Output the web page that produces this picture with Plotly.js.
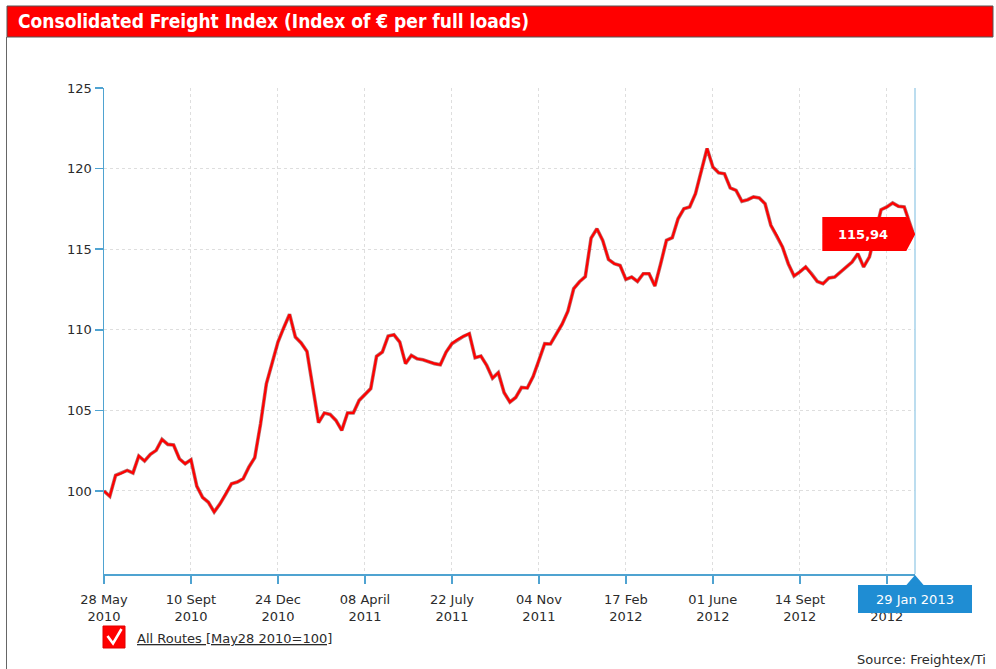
<!DOCTYPE html>
<html>
<head>
<meta charset="utf-8">
<script src="https://cdn.plot.ly/plotly-3.0.1.min.js"></script>
<style>
  html, body { margin: 0; padding: 0; background: #ffffff; }
  #chart { width: 996px; height: 669px; }
</style>
</head>
<body>
<div id="chart"></div>
<script>
// ---------- DATA ----------
const dates = [
'2010-05-28','2010-06-04','2010-06-11','2010-06-18','2010-06-25','2010-07-02','2010-07-09','2010-07-16','2010-07-23','2010-07-30',
'2010-08-06','2010-08-13','2010-08-20','2010-08-27','2010-09-03','2010-09-10','2010-09-17','2010-09-24','2010-10-01','2010-10-08',
'2010-10-15','2010-10-22','2010-10-29','2010-11-05','2010-11-12','2010-11-19','2010-11-26','2010-12-03','2010-12-10','2010-12-17',
'2010-12-24','2010-12-31','2011-01-07','2011-01-14','2011-01-21','2011-01-28','2011-02-04','2011-02-11','2011-02-18','2011-02-25',
'2011-03-04','2011-03-11','2011-03-18','2011-03-25','2011-04-01','2011-04-08','2011-04-15','2011-04-22','2011-04-29','2011-05-06',
'2011-05-13','2011-05-20','2011-05-27','2011-06-03','2011-06-10','2011-06-17','2011-06-24','2011-07-01','2011-07-08','2011-07-15',
'2011-07-22','2011-07-29','2011-08-05','2011-08-12','2011-08-19','2011-08-26','2011-09-02','2011-09-09','2011-09-16','2011-09-23',
'2011-09-30','2011-10-07','2011-10-14','2011-10-21','2011-10-28','2011-11-04','2011-11-11','2011-11-18','2011-11-25','2011-12-02',
'2011-12-09','2011-12-16','2011-12-23','2011-12-30','2012-01-06','2012-01-13','2012-01-20','2012-01-27','2012-02-03','2012-02-10',
'2012-02-17','2012-02-24','2012-03-02','2012-03-09','2012-03-16','2012-03-23','2012-03-30','2012-04-06','2012-04-13','2012-04-20',
'2012-04-27','2012-05-04','2012-05-11','2012-05-18','2012-05-25','2012-06-01','2012-06-08','2012-06-15','2012-06-22','2012-06-29',
'2012-07-06','2012-07-13','2012-07-20','2012-07-27','2012-08-03','2012-08-10','2012-08-17','2012-08-24','2012-08-31','2012-09-07',
'2012-09-14','2012-09-21','2012-09-28','2012-10-05','2012-10-12','2012-10-19','2012-10-26','2012-11-02','2012-11-09','2012-11-16',
'2012-11-23','2012-11-30','2012-12-07','2012-12-14','2012-12-21','2012-12-28','2013-01-04','2013-01-11','2013-01-18','2013-01-29'
];

const allRoutes = [
100.0, 99.67, 100.97, 101.1, 101.28, 101.12, 102.17, 101.86, 102.27, 102.52,
103.2, 102.89, 102.85, 102.0, 101.69, 101.94, 100.3, 99.6, 99.3, 98.7,
99.2, 99.8, 100.45, 100.56, 100.76, 101.49, 102.07, 104.17, 106.65, 107.94,
109.24, 110.13, 110.96, 109.55, 109.18, 108.66, 106.4, 104.24, 104.84, 104.75,
104.38, 103.76, 104.84, 104.84, 105.62, 106.0, 106.35, 108.35, 108.62, 109.61,
109.69, 109.24, 107.9, 108.41, 108.2, 108.14, 108.0, 107.9, 107.83, 108.62,
109.14, 109.4, 109.6, 109.76, 108.27, 108.37, 107.79, 107.0, 107.34, 106.1,
105.52, 105.8, 106.42, 106.39, 107.1, 108.1, 109.14, 109.12, 109.72, 110.35,
111.15, 112.55, 112.98, 113.3, 115.69, 116.27, 115.55, 114.37, 114.1, 113.99,
113.13, 113.27, 113.0, 113.48, 113.48, 112.72, 114.1, 115.55, 115.71, 116.89,
117.51, 117.62, 118.44, 119.79, 121.25, 120.1, 119.74, 119.68, 118.8, 118.65,
117.97, 118.07, 118.24, 118.18, 117.82, 116.48, 115.86, 115.14, 114.1, 113.34,
113.59, 113.9, 113.48, 113.0, 112.86, 113.21, 113.27, 113.59, 113.9, 114.2,
114.72, 113.9, 114.52, 115.9, 117.45, 117.62, 117.87, 117.66, 117.62, 115.94
];

const xTickVals = ['2010-05-28','2010-09-10','2010-12-24','2011-04-08','2011-07-22','2011-11-04','2012-02-17','2012-06-01','2012-09-14','2012-12-28'];
const xTickText = ['28 May<br>2010','10 Sept<br>2010','24 Dec<br>2010','08 April<br>2011','22 July<br>2011','04 Nov<br>2011','17 Feb<br>2012','01 June<br>2012','14 Sept<br>2012','28 Dec<br>2012'];
const yTickVals = [100, 105, 110, 115, 120, 125];

const titleText = 'Consolidated Freight Index (Index of € per full loads)';
const seriesName = 'All Routes [May28 2010=100]';
const currentDateLabel = '29 Jan 2013';
const lastValueLabel = '115,94';
const sourceText = 'Source: Freightex/Ti';

// ---------- LAYOUT HELPERS (decoration placement only) ----------
const W = 996, H = 669;
const M = {l: 104, r: 81, t: 88, b: 95};
const PW = W - M.l - M.r, PH = H - M.t - M.b;
const fx = px => (px - M.l) / PW;
const fy = py => (H - M.b - py) / PH;

const lastDate = dates[dates.length - 1];
const lastVal = allRoutes[allRoutes.length - 1];

const axisBlue = '#4fa3d1';
const tickFont = {family: 'DejaVu Sans, Verdana, sans-serif', size: 13, color: '#2b2b2b'};

const traces = [
  {
    x: dates, y: allRoutes, type: 'scatter', mode: 'lines',
    line: {color: 'rgba(120,0,0,0.55)', width: 3.6, shape: 'linear'},
    hoverinfo: 'skip', showlegend: false
  },
  {
    x: dates, y: allRoutes, type: 'scatter', mode: 'lines', name: seriesName,
    line: {color: '#ff0000', width: 2.2, shape: 'linear'},
    showlegend: false
  }
];

const shapes = [
  // title bar
  {type: 'rect', xref: 'paper', yref: 'paper', x0: fx(7), x1: fx(993), y0: fy(6), y1: fy(37),
   fillcolor: '#ff0000', line: {color: '#555555', width: 1}, layer: 'above'},
  // left frame line
  {type: 'line', xref: 'paper', yref: 'paper', x0: fx(6.5), x1: fx(6.5), y0: fy(37), y1: fy(669),
   line: {color: '#666666', width: 1}, layer: 'above'},
  // right current-date line
  {type: 'line', xref: 'paper', yref: 'paper', x0: 1, x1: 1, y0: 0, y1: 1,
   line: {color: '#a6d2ea', width: 1.5}, layer: 'above'},
  // current-date box on x axis
  {type: 'rect', xref: 'paper', yref: 'paper', x0: fx(858), x1: fx(972), y0: fy(585), y1: fy(613),
   fillcolor: '#1f8dd3', line: {width: 0}, layer: 'above'},
  {type: 'path', xref: 'paper', yref: 'paper',
   path: `M ${fx(906)} ${fy(585.5)} L ${fx(915)} ${fy(575)} L ${fx(924)} ${fy(585.5)} Z`,
   fillcolor: '#1f8dd3', line: {width: 0}, layer: 'above'},
  // last value flag anchored at the last data point
  {type: 'path', xref: 'x', yref: 'y', xsizemode: 'pixel', ysizemode: 'pixel',
   xanchor: lastDate, yanchor: lastVal,
   path: 'M -91 17 L -7 17 L 2 0 L -7 -17 L -91 -17 Z',
   fillcolor: '#ff0000', line: {width: 0}, layer: 'above'},
  // legend checkbox
  {type: 'rect', xref: 'paper', yref: 'paper', x0: fx(103), x1: fx(125), y0: fy(626), y1: fy(648),
   fillcolor: '#ff0000', line: {color: '#e00000', width: 1}, layer: 'above'},
  {type: 'path', xref: 'paper', yref: 'paper',
   path: `M ${fx(107.5)} ${fy(636)} L ${fx(113)} ${fy(643.5)} L ${fx(121.5)} ${fy(629)}`,
   line: {color: '#ffffff', width: 2.6}, layer: 'above'}
];

const annotations = [
  {xref: 'x', yref: 'y', x: lastDate, y: lastVal, xshift: -50, yshift: 0,
   text: '<b>' + lastValueLabel + '</b>', showarrow: false,
   font: {family: 'DejaVu Sans, Verdana, sans-serif', size: 13, color: '#ffffff'},
   xanchor: 'center', yanchor: 'middle'},
  {xref: 'paper', yref: 'paper', x: fx(915), y: fy(599), text: currentDateLabel, showarrow: false,
   font: {family: 'DejaVu Sans, Verdana, sans-serif', size: 13, color: '#ffffff'},
   xanchor: 'center', yanchor: 'middle'},
  {xref: 'paper', yref: 'paper', x: fx(135), y: fy(638), text: '<u>' + seriesName + '</u>', showarrow: false,
   font: {family: 'DejaVu Sans, Verdana, sans-serif', size: 13, color: '#2b2b2b'},
   xanchor: 'left', yanchor: 'middle'},
  {xref: 'paper', yref: 'paper', x: fx(855), y: fy(659), text: sourceText, showarrow: false,
   font: {family: 'DejaVu Sans, Verdana, sans-serif', size: 13, color: '#2b2b2b'},
   xanchor: 'left', yanchor: 'middle'}
];

const layout = {
  width: W, height: H,
  margin: M,
  paper_bgcolor: '#ffffff', plot_bgcolor: '#ffffff',
  showlegend: false,
  title: {
    text: '<b>' + titleText + '</b>',
    xref: 'container', yref: 'container',
    x: 18 / W, xanchor: 'left', y: 1 - 21.5 / H, yanchor: 'middle',
    font: {family: 'DejaVu Sans Condensed, Open Sans, sans-serif', size: 19, color: '#ffffff'}
  },
  xaxis: {
    type: 'date',
    range: ['2010-05-28', '2013-01-31'],
    tickmode: 'array', tickvals: xTickVals, ticktext: xTickText,
    tickfont: tickFont,
    ticks: 'outside', ticklen: 8, tickwidth: 1.5, tickcolor: axisBlue,
    ticklabelstandoff: 5,
    showline: true, linecolor: axisBlue, linewidth: 1.5,
    showgrid: true, gridcolor: '#dedede', gridwidth: 1, griddash: 'dot',
    zeroline: false, fixedrange: true
  },
  yaxis: {
    range: [94.85, 125],
    tickmode: 'array', tickvals: yTickVals,
    tickfont: tickFont,
    ticks: 'outside', ticklen: 8, tickwidth: 1.5, tickcolor: axisBlue,
    showline: true, linecolor: axisBlue, linewidth: 1.5,
    showgrid: true, gridcolor: '#dedede', gridwidth: 1, griddash: 'dot',
    zeroline: false, fixedrange: true
  },
  shapes: shapes,
  annotations: annotations
};

Plotly.newPlot('chart', traces, layout, {displayModeBar: false, staticPlot: true});
</script>
</body>
</html>
